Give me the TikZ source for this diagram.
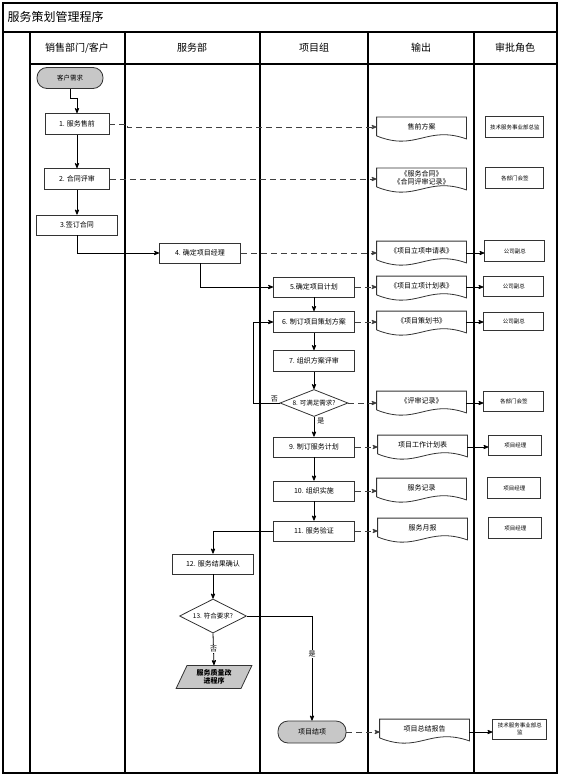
\documentclass[tikz,border=0pt]{standalone}
\usepackage{fontspec}
\setmainfont{Noto Sans CJK SC}
\usepackage{tikz}
\usetikzlibrary{arrows}
\usetikzlibrary{positioning}
\usetikzlibrary{shapes.geometric}

\begin{document}
\begin{tikzpicture}[->,>=stealth',thick,x=1pt,y=-1pt,
  proc node/.style={rectangle,draw=black!80,fill=white,minimum width=81pt,minimum height=20pt,inner sep=1pt,font=\fontsize{7}{8}\selectfont},
  term node/.style={rectangle,rounded corners=10pt,draw=black!80,fill=black!22,minimum width=66pt,minimum height=21pt,inner sep=1pt,font=\fontsize{6.5}{8}\selectfont},
  dec node/.style={diamond,aspect=2.5,draw=black!80,fill=white,minimum width=68pt,minimum height=27pt,inner sep=0pt,font=\fontsize{6.5}{8}\selectfont},
  io node/.style={trapezium,trapezium left angle=66,trapezium right angle=114,trapezium stretches=true,draw=black!80,fill=black!22,minimum width=76pt,minimum height=23pt,inner sep=1pt,align=center,font=\fontsize{7}{8}\selectfont\bfseries},
  doc node/.style={rectangle,minimum width=89pt,minimum height=19pt,inner sep=1pt,align=center,font=\fontsize{7}{8}\selectfont},
  appr node/.style={rectangle,draw=black!80,minimum width=58pt,minimum height=21pt,inner sep=1pt,align=center,font=\fontsize{5.5}{6.5}\selectfont},
  head/.style={font=\fontsize{10}{12}\selectfont},
  lbl/.style={font=\fontsize{7}{8}\selectfont,inner sep=1pt},
  flow dash/.style={dash pattern=on 6pt off 4pt,draw=black!75}]

  \useasboundingbox (0,0) rectangle (561,778);

  % frame and lanes
  \draw[-,line width=1.1pt] (3,3) rectangle (557,773);
  \draw[-,line width=1.1pt] (3,32) -- (557,32);
  \draw[-,line width=1.1pt] (30,64) -- (557,64);
  \foreach \x in {30,125,260,368,474}
    \draw[-,line width=1.1pt] (\x,32) -- (\x,773);

  \node[anchor=west,font=\fontsize{12}{14}\selectfont] (title) at (4,17) {服务策划管理程序};
  \node[head] (h1) at (77,48) {销售部门/客户};
  \node[head] (h2) at (192,48) {服务部};
  \node[head] (h3) at (314,48) {项目组};
  \node[head] (h4) at (421,48) {输出};
  \node[head] (h5) at (515,48) {审批角色};

  % steps
  \node[term node] (0) at (70,78) {客户需求};
  \node[proc node,minimum width=64pt,minimum height=21pt] (1) at (77,124) {1. 服务售前};
  \node[proc node,minimum width=65pt,minimum height=21pt] (2) at (77,179) {2. 合同评审};
  \node[proc node] (3) at (77,225) {3.签订合同};
  \node[proc node] (4) at (200,253) {4. 确定项目经理};
  \node[proc node] (5) at (314,287) {5.确定项目计划};
  \node[proc node,minimum height=21pt] (6) at (314,322) {6. 制订项目策划方案};
  \node[proc node,minimum height=21pt] (7) at (314,361) {7. 组织方案评审};
  \node[dec node] (8) at (314,403) {8. 可满足需求?};
  \node[proc node] (9) at (314,447) {9. 制订服务计划};
  \node[proc node] (10) at (314,491) {10. 组织实施};
  \node[proc node] (11) at (314,531) {11. 服务验证};
  \node[proc node] (12) at (213,564) {12. 服务结果确认};
  \node[dec node,aspect=2,minimum width=67pt,minimum height=34pt] (13) at (213,616) {13. 符合要求?};
  \node[io node] (13n) at (214,677) {服务质量改\\进程序};
  \node[term node,minimum width=68pt,minimum height=22pt,font=\fontsize{7}{8}\selectfont] (14) at (312,732) {项目结项};

  % outputs
  \node[doc node] (1o) at (421.5,127) {售前方案};
  \node[doc node] (2o) at (421.5,178) {《服务合同》\\《合同评审记录》};
  \node[doc node] (3o) at (421.5,251) {《项目立项申请表》};
  \node[doc node] (5o) at (421.5,286) {《项目立项计划表》};
  \node[doc node] (6o) at (421.5,321) {《项目策划书》};
  \node[doc node] (8o) at (421.5,401) {《评审记录》};
  \node[doc node] (9o) at (422.5,445) {项目工作计划表};
  \node[doc node] (10o) at (421.5,488) {服务记录};
  \node[doc node] (11o) at (422.5,528) {服务月报};
  \node[doc node] (14o) at (424.5,729) {项目总结报告};
  \foreach \n in {1o,2o,3o,5o,6o,8o,9o,10o,11o,14o}
    \draw[-,draw=black!80] ([yshift=1pt]\n.south west) -- (\n.north west) -- (\n.north east) -- ([yshift=-2pt]\n.south east)
      .. controls +(-40pt,14pt) and +(40pt,-16pt) .. ([yshift=1pt]\n.south west);

  % approvals
  \node[appr node] (1a) [right=19pt of 1o] {技术服务事业部总监};
  \node[appr node] (2a) [right=19pt of 2o] {各部门会签};
  \node[appr node,minimum width=60pt] (3a) [right=18pt of 3o] {公司副总};
  \node[appr node,minimum width=60pt,minimum height=20pt] (5a) [right=17pt of 5o] {公司副总};
  \node[appr node,minimum width=60pt,minimum height=18pt] (6a) [right=17pt of 6o] {公司副总};
  \node[appr node,minimum width=60pt,minimum height=20pt] (8a) [right=17pt of 8o] {各部门会签};
  \node[appr node,minimum width=53pt,minimum height=20pt] (9a) [right=21pt of 9o] {项目经理};
  \node[appr node,minimum width=53pt] (10a) [right=21pt of 10o] {项目经理};
  \node[appr node,minimum width=53pt] (11a) [right=21pt of 11o] {项目经理};
  \node[appr node,minimum width=54pt,minimum height=20pt] (14a) [right=23pt of 14o] {技术服务事业部总\\监};

  % flow
  \draw (0.south) -- ++(0,10) -| (1.north);
  \path (1) edge (2) (2) edge (3) (5) edge (6) (6) edge (7) (7) edge (8)
        (9) edge (10) (10) edge (11) (12) edge (13);
  \draw (3.south) |- (4.west);
  \draw (4.south) |- (5.west);
  \draw (8.west) -- node[lbl,above,pos=0.2] {否} ++(-26,0) |- (6.west);
  \draw (8.south) -- node[lbl,right,pos=0.2,xshift=2pt] {是} (9.north);
  \draw (11.west) -| (12.north);
  \draw (13.south) -- node[lbl,fill=white] {否} (13n.north);
  \draw (13.east) -| node[lbl,fill=white,pos=0.68] {是} (14.north);

  % outputs and approvals
  \draw[flow dash] (1.east) -- ++(18,0) |- (1o);
  \path[flow dash] (2) edge (2 -| 2o.west) (4) edge (4 -| 3o.west) (5) edge (5 -| 5o.west)
        (6) edge (6 -| 6o.west) (8) edge (8 -| 8o.west) (9) edge (9 -| 9o.west)
        (10) edge (10 -| 10o.west) (11) edge (11 -| 11o.west) (14) edge (14 -| 14o.west);
  \path (3o.east |- 4) edge (4 -| 3a.west) (5o.east |- 5) edge (5 -| 5a.west)
        (6o.east |- 6) edge (6 -| 6a.west) (8o.east |- 8) edge (8 -| 8a.west)
        (9o.east |- 9) edge (9 -| 9a.west) (14o.east |- 14) edge (14 -| 14a.west);
\end{tikzpicture}
\end{document}
